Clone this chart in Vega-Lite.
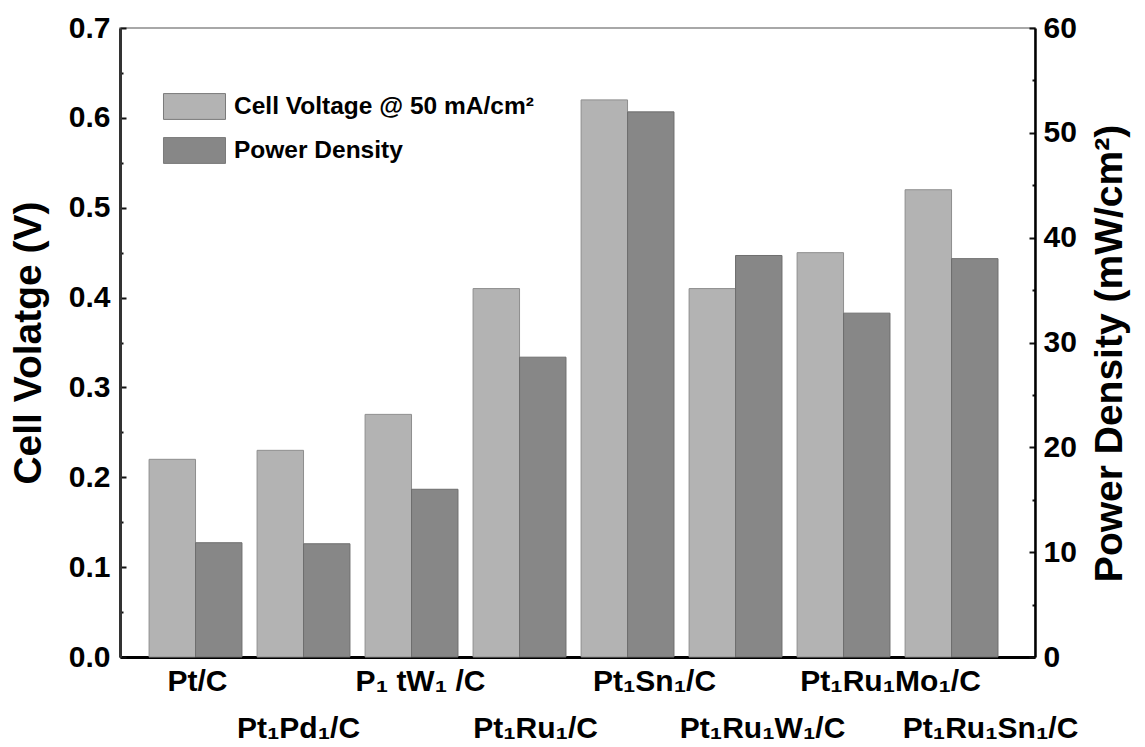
{
  "$schema": "https://vega.github.io/schema/vega-lite/v6.json",
  "width": 915,
  "height": 629,
  "autosize": {"type": "none"},
  "padding": {"left": 120, "top": 28, "right": 110, "bottom": 90},
  "background": "white",
  "config": {
    "font": "Liberation Sans",
    "view": {"stroke": "#8c8c8c", "strokeWidth": 1.5},
    "axis": {"grid": false, "labelColor": "black", "titleColor": "black", "labelFont": "Liberation Sans", "titleFont": "Liberation Sans"}
  },
  "data": {
    "values": [
      {"catalyst": "Pt/C", "series": "Cell Voltage @ 50 mA/cm²", "value": 0.22},
      {"catalyst": "Pt/C", "series": "Power Density", "value": 10.9},
      {"catalyst": "Pt₁Pd₁/C", "series": "Cell Voltage @ 50 mA/cm²", "value": 0.23},
      {"catalyst": "Pt₁Pd₁/C", "series": "Power Density", "value": 10.8},
      {"catalyst": "P₁ tW₁ /C", "series": "Cell Voltage @ 50 mA/cm²", "value": 0.27},
      {"catalyst": "P₁ tW₁ /C", "series": "Power Density", "value": 16.0},
      {"catalyst": "Pt₁Ru₁/C", "series": "Cell Voltage @ 50 mA/cm²", "value": 0.41},
      {"catalyst": "Pt₁Ru₁/C", "series": "Power Density", "value": 28.6},
      {"catalyst": "Pt₁Sn₁/C", "series": "Cell Voltage @ 50 mA/cm²", "value": 0.62},
      {"catalyst": "Pt₁Sn₁/C", "series": "Power Density", "value": 52.0},
      {"catalyst": "Pt₁Ru₁W₁/C", "series": "Cell Voltage @ 50 mA/cm²", "value": 0.41},
      {"catalyst": "Pt₁Ru₁W₁/C", "series": "Power Density", "value": 38.3},
      {"catalyst": "Pt₁Ru₁Mo₁/C", "series": "Cell Voltage @ 50 mA/cm²", "value": 0.45},
      {"catalyst": "Pt₁Ru₁Mo₁/C", "series": "Power Density", "value": 32.8},
      {"catalyst": "Pt₁Ru₁Sn₁/C", "series": "Cell Voltage @ 50 mA/cm²", "value": 0.52},
      {"catalyst": "Pt₁Ru₁Sn₁/C", "series": "Power Density", "value": 38.0}
    ]
  },
  "encoding": {
    "x": {
      "field": "catalyst",
      "type": "nominal",
      "scale": {
        "type": "band",
        "domain": ["Pt/C", "Pt₁Pd₁/C", "P₁ tW₁ /C", "Pt₁Ru₁/C", "Pt₁Sn₁/C", "Pt₁Ru₁W₁/C", "Pt₁Ru₁Mo₁/C", "Pt₁Ru₁Sn₁/C"],
        "paddingInner": 0.14,
        "paddingOuter": 0.306,
        "align": 0.44
      },
      "axis": {
        "title": null,
        "ticks": false,
        "labelAngle": 0,
        "labelFontSize": 30,
        "labelFontWeight": "bold",
        "labelBaseline": "top",
        "labelOverlap": false,
        "labelLimit": 400,
        "labelPadding": {
          "condition": {"test": "indexof(['Pt₁Pd₁/C', 'Pt₁Ru₁/C', 'Pt₁Ru₁W₁/C', 'Pt₁Ru₁Sn₁/C'], datum.value) >= 0", "value": 56},
          "value": 9
        },
        "labelOffset": {
          "condition": [
            {"test": "datum.value === 'Pt₁Pd₁/C'", "value": -5},
            {"test": "datum.value === 'P₁ tW₁ /C'", "value": 9},
            {"test": "datum.value === 'Pt₁Ru₁/C'", "value": 16},
            {"test": "datum.value === 'Pt₁Sn₁/C'", "value": 27},
            {"test": "datum.value === 'Pt₁Ru₁W₁/C'", "value": 27},
            {"test": "datum.value === 'Pt₁Ru₁Mo₁/C'", "value": 47},
            {"test": "datum.value === 'Pt₁Ru₁Sn₁/C'", "value": 39}
          ],
          "value": 2
        },
        "domainColor": "black",
        "domainWidth": 3
      }
    },
    "xOffset": {
      "field": "series",
      "type": "nominal",
      "scale": {"domain": ["Cell Voltage @ 50 mA/cm²", "Power Density"], "paddingInner": 0, "paddingOuter": 0}
    },
    "fill": {
      "field": "series",
      "type": "nominal",
      "scale": {"domain": ["Cell Voltage @ 50 mA/cm²", "Power Density"], "range": ["#b3b3b3", "#878787"]},
      "legend": {
        "title": null,
        "orient": "none",
        "legendX": 48,
        "legendY": 52,
        "padding": 0,
        "symbolType": "M-1.2,-0.5H1.2V0.5H-1.2Z",
        "symbolSize": 2670,
        "symbolStrokeColor": "#7a7a7a",
        "symbolStrokeWidth": 1,
        "symbolOpacity": 1,
        "rowPadding": 2,
        "labelOffset": 13,
        "labelFont": "Liberation Sans",
        "labelFontSize": 24.5,
        "labelFontWeight": "bold",
        "labelColor": "black",
        "labelLimit": 500
      }
    }
  },
  "layer": [
    {
      "transform": [{"filter": "datum.series === 'Cell Voltage @ 50 mA/cm²'"}],
      "mark": {"type": "bar", "stroke": "#8e8e8e", "strokeWidth": 1},
      "encoding": {
        "y": {
          "field": "value",
          "type": "quantitative",
          "scale": {"domain": [0, 0.7], "nice": false, "zero": true},
          "axis": {
            "orient": "left",
            "title": "Cell Volatge (V)",
            "titleFontSize": 39,
            "titleFontWeight": "bold",
            "titlePadding": 20,
            "values": [0, 0.05, 0.1, 0.15, 0.2, 0.25, 0.3, 0.35, 0.4, 0.45, 0.5, 0.55, 0.6, 0.65, 0.7],
            "labelExpr": "round(datum.value * 20) % 2 == 0 ? format(datum.value, '.1f') : ''",
            "labelFontSize": 30,
            "labelFontWeight": "bold",
            "labelPadding": 16,
            "labelOverlap": false,
            "labelBound": false,
            "labelFlush": false,
            "domainColor": "#333333",
            "domainWidth": 3,
            "tickColor": "#111111",
            "tickWidth": 2,
            "tickSize": {"condition": {"test": "round(datum.value * 20) % 2 != 0", "value": -3}, "value": -6}
          }
        }
      }
    },
    {
      "transform": [{"filter": "datum.series === 'Power Density'"}],
      "mark": {"type": "bar", "stroke": "#6e6e6e", "strokeWidth": 1},
      "encoding": {
        "y": {
          "field": "value",
          "type": "quantitative",
          "scale": {"domain": [0, 60], "nice": false, "zero": true},
          "axis": {
            "orient": "right",
            "title": "Power Density (mW/cm²)",
            "titleAngle": 270,
            "titleBaseline": "top",
            "titleFontSize": 39,
            "titleFontWeight": "bold",
            "titlePadding": 14,
            "titleY": 325,
            "values": [0, 5, 10, 15, 20, 25, 30, 35, 40, 45, 50, 55, 60],
            "labelExpr": "datum.value % 10 == 0 ? format(datum.value, 'd') : ''",
            "labelFontSize": 30,
            "labelFontWeight": "bold",
            "labelPadding": 14,
            "labelOverlap": false,
            "labelFlush": false,
            "domainColor": "black",
            "domainWidth": 2.5,
            "tickColor": "#111111",
            "tickWidth": 2,
            "tickSize": {"condition": {"test": "datum.value % 10 != 0", "value": -3}, "value": -6}
          }
        }
      }
    }
  ],
  "resolve": {"scale": {"y": "independent"}}
}
